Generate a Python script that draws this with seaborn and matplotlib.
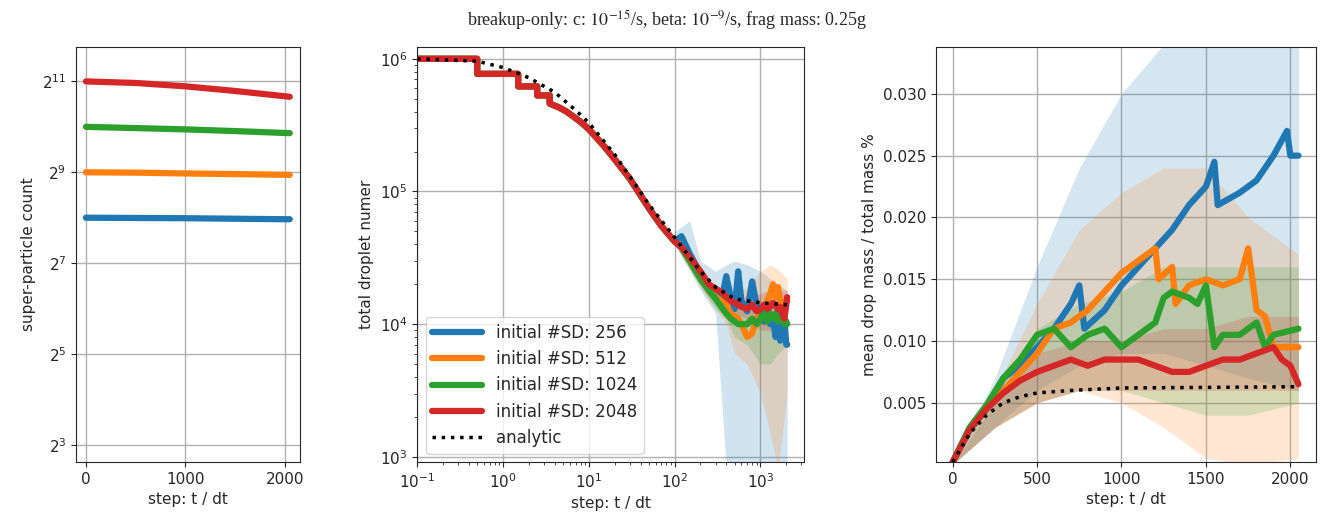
import numpy as np
import pandas as pd
import matplotlib
matplotlib.use("Agg")
import matplotlib.pyplot as plt
import seaborn as sns

sns.set_style("ticks")
plt.rcParams["font.family"] = ["DejaVu Sans"]
plt.rcParams["mathtext.fontset"] = "stix"

labels = ["initial #SD: 256", "initial #SD: 512", "initial #SD: 1024", "initial #SD: 2048"]
colors = ["#1f77b4", "#ff7f0e", "#2ca02c", "#d62728"]

# left panel: super-particle count
sd_t = [0, 500, 1000, 1500, 2048]
sd_counts = [
    [256, 255, 254, 252, 250],
    [512, 509, 503, 498, 492],
    [1024, 1005, 985, 960, 930],
    [2048, 2000, 1900, 1770, 1620],
]

# middle panel: total droplet number
early_t = [0.1, 0.5, 0.5, 1.5, 1.5, 2.5, 2.5, 3.5, 3.5, 4.5, 5.5, 6.5, 8, 10, 15, 20, 30, 50, 70, 100]
early_n = [1e6, 1e6, 7.7e5, 7.7e5, 6.2e5, 6.2e5, 5.3e5, 5.3e5, 4.6e5, 4.3e5, 4.0e5, 3.7e5,
           3.35e5, 2.95e5, 2.2e5, 1.75e5, 1.25e5, 7.5e4, 5.5e4, 4.2e4]
late_t = [120, 150, 200, 250, 300, 350, 400, 450, 500, 550, 600, 700, 800, 900,
          1000, 1100, 1200, 1300, 1400, 1500, 1600, 1700, 1800, 1900, 2000, 2048]
late_n = [
    [4.6e4, 3.4e4, 2.4e4, 2.0e4, 1.7e4, 1.5e4, 2.3e4, 1.6e4, 1.3e4, 2.5e4, 1.5e4, 1.25e4, 2.1e4,
     1.4e4, 1.2e4, 1.05e4, 1.4e4, 1.0e4, 1.1e4, 8e3, 1.3e4, 7.5e3, 1.0e4, 1.1e4, 7e3, 7e3],
    [3.8e4, 3e4, 2.2e4, 1.8e4, 1.6e4, 1.5e4, 1.4e4, 1.2e4, 1.15e4, 1.1e4, 1e4, 8e3, 8.5e3,
     1.1e4, 1.2e4, 1.3e4, 1.5e4, 1.7e4, 2e4, 1.6e4, 1.9e4, 1.5e4, 1.3e4, 1.4e4, 1.5e4, 1.5e4],
    [3.8e4, 3e4, 2.2e4, 1.8e4, 1.55e4, 1.35e4, 1.2e4, 1.1e4, 1.05e4, 1.0e4, 1.0e4, 1.0e4, 1.1e4,
     1.0e4, 1.1e4, 1.3e4, 1.05e4, 1.2e4, 1.1e4, 1.2e4, 1.05e4, 1.1e4, 1.1e4, 1.0e4, 1.05e4, 1.0e4],
    [3.8e4, 3.2e4, 2.5e4, 2.0e4, 1.85e4, 1.75e4, 1.6e4, 1.5e4, 1.45e4, 1.4e4, 1.35e4, 1.3e4, 1.4e4,
     1.25e4, 1.3e4, 1.4e4, 1.3e4, 1.35e4, 1.45e4, 1.4e4, 1.3e4, 1.35e4, 1.2e4, 1.1e4, 1.4e4, 1.6e4],
]
band_t = [100, 150, 200, 300, 400, 500, 700, 1000, 1300, 1600, 2048]
band_lo = [
    [4e4, 2.5e4, 1.8e4, 1.2e4, 800, 800, 800, 800, 800, 800, 800],
    [4e4, 2.6e4, 1.9e4, 1.3e4, 1e4, 6e3, 5e3, 3e3, 1.5e3, 800, 3e3],
    [4e4, 2.6e4, 1.9e4, 1.3e4, 1.1e4, 8e3, 7e3, 5e3, 5e3, 6e3, 7e3],
    [4e4, 2.7e4, 2e4, 1.6e4, 1.3e4, 1.2e4, 1.1e4, 9e3, 9e3, 9e3, 9e3],
]
band_hi = [
    [5e4, 6e4, 3e4, 2.5e4, 2.8e4, 3e4, 2.8e4, 2.5e4, 2.2e4, 2e4, 1.8e4],
    [4.5e4, 3e4, 2.4e4, 1.9e4, 1.8e4, 1.7e4, 1.9e4, 2.5e4, 2.8e4, 2.6e4, 2.2e4],
    [4.5e4, 3.2e4, 2.5e4, 1.8e4, 1.6e4, 1.5e4, 1.4e4, 1.5e4, 1.5e4, 1.4e4, 1.4e4],
    [4.5e4, 3e4, 2.3e4, 1.9e4, 1.7e4, 1.6e4, 1.6e4, 1.7e4, 1.8e4, 1.8e4, 1.8e4],
]
analytic_t = [0.1, 0.5, 1, 2, 4, 7, 10, 20, 50, 100, 200, 300, 500, 1000, 2048]
analytic_n = [1e6, 9.6e5, 8.6e5, 7.2e5, 5.6e5, 4.1e5, 3.3e5, 1.9e5, 8e4, 4.5e4,
              2.5e4, 1.9e4, 1.55e4, 1.45e4, 1.4e4]

# right panel: mean drop mass / total mass %
mass_t = [
    [0, 100, 200, 300, 400, 500, 600, 700, 750, 780, 900, 1000, 1100, 1200, 1300, 1400,
     1500, 1550, 1570, 1700, 1800, 1900, 1980, 2000, 2048],
    [0, 100, 200, 300, 400, 500, 600, 700, 800, 900, 1000, 1100, 1200, 1220, 1300, 1320,
     1400, 1500, 1600, 1700, 1750, 1800, 1850, 1900, 2048],
    [0, 100, 200, 300, 400, 500, 600, 700, 800, 900, 1000, 1100, 1200, 1250, 1300, 1400,
     1450, 1500, 1550, 1600, 1700, 1800, 1850, 1900, 2048],
    [0, 100, 200, 300, 400, 500, 600, 700, 800, 900, 1000, 1100, 1200, 1300, 1400, 1500,
     1600, 1700, 1800, 1900, 1950, 2000, 2048],
]
mass_v = [
    [.0002, .0028, .0045, .007, .008, .0095, .011, .013, .0145, .011, .0125, .0145, .016,
     .0175, .019, .021, .0225, .0245, .021, .022, .023, .025, .027, .025, .025],
    [.0002, .0028, .0045, .006, .0075, .009, .011, .0115, .0125, .014, .0155, .0165, .0175,
     .015, .016, .013, .0145, .015, .0145, .015, .0175, .0125, .012, .0095, .0095],
    [.0002, .003, .0048, .007, .0085, .0105, .011, .0095, .0105, .011, .0095, .0105, .0115,
     .0135, .014, .0135, .013, .0145, .0095, .0105, .0105, .0115, .0095, .0105, .011],
    [.0002, .0028, .0045, .0058, .0068, .0075, .008, .0085, .008, .0085, .0085, .0085, .008,
     .0075, .0075, .008, .0085, .0085, .009, .0095, .0085, .008, .0065],
]
mass_band_t = [0, 250, 500, 750, 1000, 1250, 1500, 1750, 2048]
mass_lo = [
    [0, .003, .006, .008, .009, .009, .008, .007, .006],
    [0, .003, .005, .006, .005, .003, .0005, 0, .0005],
    [0, .003, .005, .006, .006, .005, .004, .004, .005],
    [0, .003, .005, .006, .006, .006, .006, .006, .006],
]
mass_hi = [
    [0, .007, .016, .024, .030, .034, .034, .034, .034],
    [0, .006, .013, .019, .022, .024, .024, .020, .017],
    [0, .006, .011, .013, .014, .016, .016, .016, .016],
    [0, .005, .009, .010, .010, .011, .011, .012, .012],
]
analytic_mt = [0, 100, 200, 300, 400, 500, 700, 1000, 2048]
analytic_m = [.0002, .0025, .004, .005, .0055, .0058, .006, .0062, .0063]

fig = plt.figure(figsize=(13.33, 5.21), dpi=100)
ax1 = fig.add_axes([0.057, 0.113, 0.168, 0.797])
ax2 = fig.add_axes([0.313, 0.113, 0.290, 0.797])
ax3 = fig.add_axes([0.702, 0.113, 0.285, 0.797])

for i in range(4):
    sns.lineplot(x=sd_t, y=sd_counts[i], ax=ax1, color=colors[i], lw=4.5)
ax1.set_yscale("log", base=2)
ax1.set_yticks([2**3, 2**5, 2**7, 2**9, 2**11])
ax1.set_ylim(2**2.62, 2**11.76)
ax1.set_xlim(-100, 2150)
ax1.set_xticks([0, 1000, 2000])
ax1.set_ylabel("super-particle count")
ax1.set_xlabel("step: t / dt")

for i in range(4):
    ax2.fill_between(band_t, band_lo[i], band_hi[i], color=colors[i], alpha=0.2, lw=0)
for i in range(4):
    sns.lineplot(x=early_t + late_t, y=early_n + late_n[i], ax=ax2, color=colors[i], lw=4.5,
                 label=labels[i], estimator=None, sort=False)
sns.lineplot(x=analytic_t, y=analytic_n, ax=ax2, color="black", lw=2.5, linestyle=":",
             label="analytic", estimator=None)
ax2.set_xscale("log")
ax2.set_yscale("log")
ax2.set_xlim(0.1, 3200)
ax2.set_ylim(10**2.96, 10**6.09)
ax2.set_ylabel("total droplet numer")
ax2.set_xlabel("step: t / dt")
ax2.legend(loc="lower left", fontsize=12, handlelength=3)

for i in range(4):
    ax3.fill_between(mass_band_t, mass_lo[i], mass_hi[i], color=colors[i], alpha=0.18, lw=0)
for i in range(4):
    sns.lineplot(x=mass_t[i], y=mass_v[i], ax=ax3, color=colors[i], lw=4.5, estimator=None)
sns.lineplot(x=analytic_mt, y=analytic_m, ax=ax3, color="black", lw=2.5, linestyle=":",
             estimator=None)
ax3.set_xlim(-100, 2150)
ax3.set_ylim(0.0002, 0.0338)
ax3.set_yticks([0.005, 0.010, 0.015, 0.020, 0.025, 0.030])
ax3.set_ylabel("mean drop mass / total mass %")
ax3.set_xlabel("step: t / dt")

for ax in (ax1, ax2, ax3):
    ax.grid(True, which="major", color="#b0b0b0", lw=1)
    ax.tick_params(labelsize=11)
    ax.xaxis.label.set_size(11)
    ax.yaxis.label.set_size(11)

fig.suptitle(r"breakup-only: c: $10^{-15}$/s, beta: $10^{-9}$/s, frag mass: 0.25g",
             fontsize=13, family="Liberation Serif", y=0.985)
fig.savefig("out.png", dpi=100)
